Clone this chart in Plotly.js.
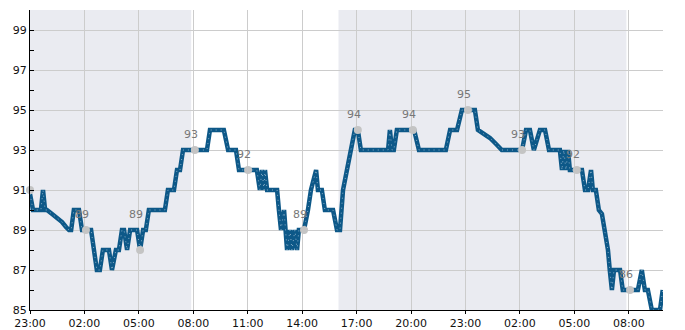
<!DOCTYPE html>
<html>
<head>
<meta charset="utf-8">
<script src="https://cdn.plot.ly/plotly-3.0.1.min.js"></script>
<style>html,body{margin:0;padding:0;background:#fff;}#chart{width:685px;height:330px;}</style>
</head>
<body>
<div id="chart"></div>
<script>
// Line series, split by calendar day (time of day "HH:MM")
var day1Date = "2024-01-01";
var day1Times = ["23:00","23:10","23:36","23:43","23:50","23:56"];
var day1Values = [90.8,90,90,91,90,90];

var day2Date = "2024-01-02";
var day2Times = ["00:13","00:29","00:46","00:59","01:09","01:16","01:25","01:42","01:52","02:22","02:41","02:51","03:01","03:21","03:31","03:44","03:54","04:04","04:11","04:21","04:31","04:54","05:04","05:14","05:23","05:33","06:26","06:36","06:56","07:06","07:16","07:26","08:45","08:55","09:41","09:55","10:21","10:31","11:30","11:40","11:47","11:54","11:57","12:04","12:37","12:43","12:50","13:00","13:10","13:20","13:26","13:36","13:43","13:49","14:06","14:19","14:29","14:46","14:52","15:05","15:15","15:42","15:55","16:05","16:15","16:28","16:41","16:54","17:04","17:14","18:44","18:50","18:57","19:03","19:13","20:10","20:26","21:55","22:09","22:32","22:48","23:31","23:41"];
var day2Values = [89.8,89.6,89.4,89.15,89,89,90,90,89,89,87,87,88,88,87,88,88,89,89,88,89,89,88,89,89,90,90,91,91,92,92,93,93,94,94,93,93,92,92,91,92,91,92,91,91,90,89,90,88,89,88,89,88,89,89,90,91,92,91,91,90,90,89,89,91,92,93,94,94,93,93,94,93,93,94,94,93,93,94,94,95,95,94];

var day3Date = "2024-01-03";
var day3Times = ["00:01","00:21","00:41","01:00","02:07","02:20","02:33","02:46","03:06","03:23","03:36","04:12","04:19","04:25","04:32","04:39","04:45","05:25","05:35","05:45","05:55","06:01","06:11","06:21","06:31","06:41","06:51","06:57","07:04","07:11","07:31","07:40","08:30","08:43","08:53","09:03","09:16","09:43","09:52"];
var day3Values = [93.8,93.6,93.3,93,93,94,94,93,94,94,93,93,92,93,92,93,92,92,91,91,92,91,91,90,89.8,89,88,87,86,87,87,86,86,87,86,86,85,85,86];

// Highlighted readings (grey dots) and their labels
var markTimes = ["2024-01-01 23:00","2024-01-02 02:05","2024-01-02 05:04","2024-01-02 08:05","2024-01-02 11:01","2024-01-02 14:06","2024-01-02 17:04","2024-01-02 20:06","2024-01-02 23:08","2024-01-03 02:07","2024-01-03 05:08","2024-01-03 08:04"];
var markValues = [91,89,88,93,92,89,94,94,95,93,92,86];
var markLabels = ["","89","89","93","92","89","94","94","95","93","92","86"];
var markLabelY = [91,89,89,93,92,89,94,94,95,93,92,86];

// Shaded periods
var shadeStarts = ["2024-01-01 23:00","2024-01-02 16:00"];
var shadeEnds = ["2024-01-02 07:53","2024-01-03 07:52"];

// Axis
var xStart = "2024-01-01 23:00";
var xEnd = "2024-01-03 09:53";
var yMin = 85, yMax = 100;

function build(date, times){ return times.map(function(t){ return date + " " + t; }); }
var xs = build(day1Date, day1Times).concat(build(day2Date, day2Times), build(day3Date, day3Times));
var ys = day1Values.concat(day2Values, day3Values);

var lineColor = "#0d5888";

var traces = [
  {x: xs, y: ys, type: "scatter", mode: "lines", line: {color: lineColor, width: 4.5}, hoverinfo: "skip"},
  {x: xs, y: ys, type: "scatter", mode: "lines", line: {color: "rgba(215,228,240,0.6)", width: 1, dash: "1px,4px"}, hoverinfo: "skip"},
  {x: markTimes, y: markValues, type: "scatter", mode: "markers", marker: {color: "#c4c4c4", size: 8}, cliponaxis: false, hoverinfo: "skip"}
];

var shapes = shadeStarts.map(function(s, i){
  return {type: "rect", xref: "x", yref: "paper", x0: s, x1: shadeEnds[i], y0: 0, y1: 1,
          fillcolor: "#eaebf1", line: {width: 0}, layer: "below"};
});

var annotations = [];
markLabels.forEach(function(t, i){
  if (!t) return;
  annotations.push({x: markTimes[i], y: markLabelY[i], text: t, showarrow: false,
    xshift: -4, yshift: 16, font: {family: "DejaVu Sans", size: 11, color: "#777777"}});
});

var layout = {
  width: 685, height: 330,
  margin: {l: 30, r: 22, t: 10, b: 20, pad: 0},
  paper_bgcolor: "#ffffff", plot_bgcolor: "rgba(0,0,0,0)",
  showlegend: false,
  font: {family: "DejaVu Sans", size: 11, color: "#111111"},
  xaxis: {
    type: "date", range: [xStart, xEnd],
    tick0: xStart, dtick: 3 * 3600000, tickformat: "%H:%M",
    showgrid: true, gridcolor: "#cccccc", gridwidth: 1,
    showline: true, linecolor: "#000000", linewidth: 1,
    ticks: "outside", ticklen: 3, tickcolor: "#000000",
    zeroline: false, fixedrange: true,
    tickfont: {family: "DejaVu Sans", size: 11, color: "#111111"}
  },
  yaxis: {
    range: [yMin, yMax], tick0: 85, dtick: 2,
    showgrid: true, gridcolor: "#cccccc", gridwidth: 1,
    showline: true, linecolor: "#000000", linewidth: 1,
    ticks: "inside", ticklen: 4, tickcolor: "#000000",
    minor: {dtick: 1, ticks: "inside", ticklen: 4, tickcolor: "#000000", showgrid: false},
    zeroline: false, fixedrange: true,
    tickfont: {family: "DejaVu Sans", size: 11, color: "#111111"}
  },
  shapes: shapes,
  annotations: annotations
};

Plotly.newPlot("chart", traces, layout, {staticPlot: true, displayModeBar: false});
</script>
</body>
</html>
